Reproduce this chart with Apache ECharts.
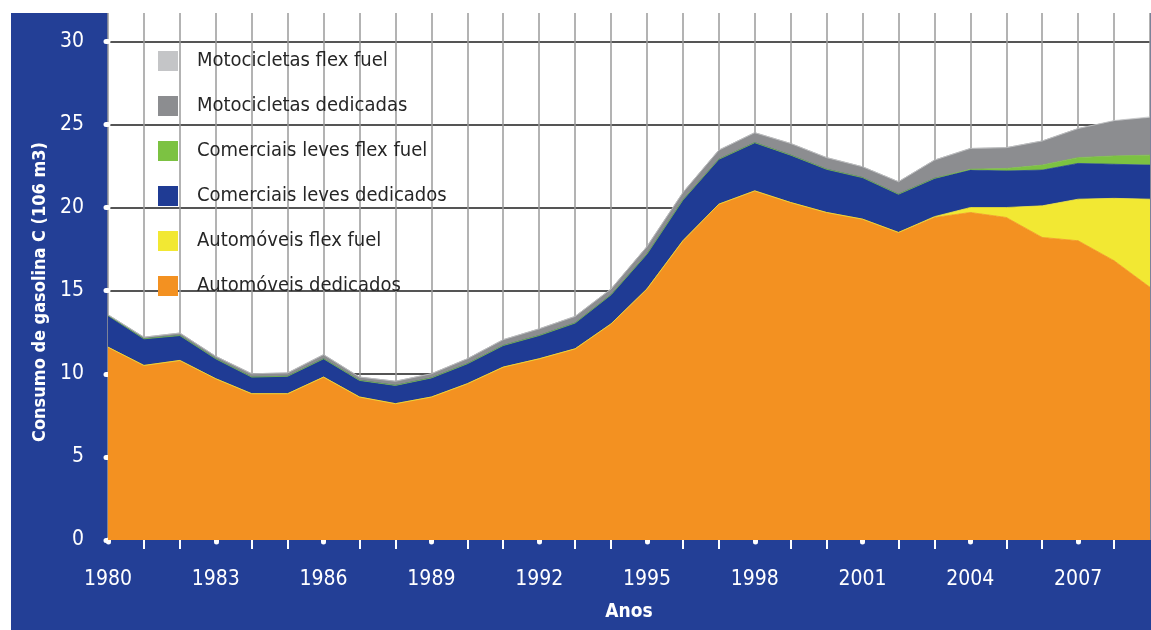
<!DOCTYPE html>
<html>
<head>
<meta charset="utf-8">
<script src="https://cdn.jsdelivr.net/npm/echarts@6/dist/echarts.min.js"></script>
<style>html,body{margin:0;padding:0;background:#fff}#c{width:1151px;height:630px}</style>
</head>
<body>
<div id="c"></div>
<script>
const years = ['1980','1981','1982','1983','1984','1985','1986','1987','1988','1989','1990','1991','1992','1993','1994','1995','1996','1997','1998','1999','2000','2001','2002','2003','2004','2005','2006','2007','2008','2009'];
const yTicks = [0, 5, 10, 15, 20, 25, 30];
const automoveisDedicados = [11.6,10.5,10.8,9.7,8.8,8.8,9.8,8.6,8.2,8.6,9.4,10.4,10.9,11.5,13.0,15.1,18.0,20.2,21.0,20.3,19.7,19.3,18.5,19.4,19.7,19.4,18.2,18.0,16.8,15.2];
const automoveisFlex = [0,0,0,0,0,0,0,0,0,0,0,0,0,0,0,0,0,0,0,0,0,0,0,0.05,0.3,0.6,1.9,2.5,3.75,5.3];
const comerciaisDedicados = [1.9,1.6,1.5,1.2,1.0,1.05,1.1,1.0,1.1,1.15,1.2,1.3,1.4,1.55,1.75,2.1,2.45,2.7,2.9,2.85,2.6,2.5,2.3,2.3,2.25,2.2,2.15,2.15,2.05,2.05];
const comerciaisFlex = [0,0,0,0,0,0,0,0,0,0,0,0,0,0,0,0,0,0,0,0,0,0,0,0,0.05,0.15,0.3,0.35,0.5,0.6];
const motoDedicadas = [0.05,0.1,0.15,0.15,0.2,0.2,0.25,0.2,0.25,0.25,0.3,0.35,0.4,0.4,0.35,0.45,0.45,0.55,0.6,0.7,0.7,0.65,0.75,1.1,1.25,1.25,1.45,1.75,2.1,2.25];
const motoFlex = [0,0,0,0,0,0,0,0,0,0,0,0,0,0,0,0,0,0,0,0,0,0,0,0,0,0,0,0,0.03,0.05];

const names = ['Automóveis dedicados','Automóveis flex fuel','Comerciais leves dedicados','Comerciais leves flex fuel','Motocicletas dedicadas','Motocicletas flex fuel'];
const values = [automoveisDedicados, automoveisFlex, comerciaisDedicados, comerciaisFlex, motoDedicadas, motoFlex];
const colors = ['#f39121','#f2e833','#1f3b94','#7cc242','#8c8d90','#c4c5c7'];

const FONT = '"Liberation Sans Narrow", "Arial Narrow", "DejaVu Sans Condensed", sans-serif';
const BLUE = '#233f96';

const chart = echarts.init(document.getElementById('c'), null, {renderer: 'canvas'});
chart.setOption({
  backgroundColor: '#ffffff',
  animation: false,
  textStyle: {fontFamily: FONT},
  graphic: [{
    type: 'rect', silent: true, z: -10,
    shape: {x: 11, y: 13, width: 1140, height: 617},
    style: {fill: BLUE}
  }],
  grid: {left: 108, top: 13, right: 1, bottom: 90, show: true, backgroundColor: '#ffffff', borderWidth: 0},
  legend: {
    orient: 'vertical', left: 153, top: 46,
    itemWidth: 20, itemHeight: 20, itemGap: 25,
    icon: 'rect',
    data: names.slice().reverse(),
    textStyle: {fontFamily: FONT, fontSize: 20, color: '#262626', padding: [0, 0, 0, 14]}
  },
  xAxis: [{
    type: 'category', data: years, boundaryGap: false,
    axisLine: {show: false},
    axisTick: {show: true, length: 9, interval: function (i) { return i % 3 !== 0 && i !== years.length - 1; }, lineStyle: {color: '#ffffff', width: 2}},
    axisLabel: {interval: 2, color: '#ffffff', fontSize: 21, fontFamily: FONT, margin: 29},
    splitLine: {show: true, interval: 0, lineStyle: {color: '#9a9a9a', width: 1.5}},
    name: 'Anos', nameLocation: 'middle', nameGap: 63,
    nameTextStyle: {color: '#ffffff', fontSize: 19, fontWeight: 'bold', fontFamily: FONT}
  }, {
    type: 'category', data: years, boundaryGap: false, position: 'bottom',
    axisLine: {show: false}, axisLabel: {show: false}, splitLine: {show: false},
    axisTick: {show: true, length: 2, interval: function (i) { return i % 3 === 0; }, lineStyle: {color: '#ffffff', width: 5, cap: 'round'}}
  }],
  yAxis: {
    type: 'value', min: 0, max: 31.7, interval: 5,
    axisLine: {show: false},
    axisTick: {show: true, length: 2, lineStyle: {color: '#ffffff', width: 5, cap: 'round'}},
    axisLabel: {color: '#ffffff', fontSize: 21, fontFamily: FONT, margin: 24, showMaxLabel: false,
      formatter: function (v) { return yTicks.indexOf(v) >= 0 ? String(v) : ''; }},
    splitLine: {show: true, showMaxLine: false, showMinLine: false, lineStyle: {color: '#555555', width: 2}},
    name: 'Consumo de gasolina C (106 m3)', nameLocation: 'middle', nameGap: 58,
    nameTextStyle: {color: '#ffffff', fontSize: 18, fontWeight: 'bold', fontFamily: FONT, padding: [0, 31, 0, 0]}
  },
  series: names.map(function (n, k) {
    return {
      name: n, type: 'line', stack: 'total', data: values[k],
      symbol: 'none', showSymbol: false,
      itemStyle: {color: colors[k]},
      lineStyle: {width: 0.8, color: colors[k]},
      areaStyle: {color: colors[k], opacity: 1}
    };
  })
});
</script>
</body>
</html>
